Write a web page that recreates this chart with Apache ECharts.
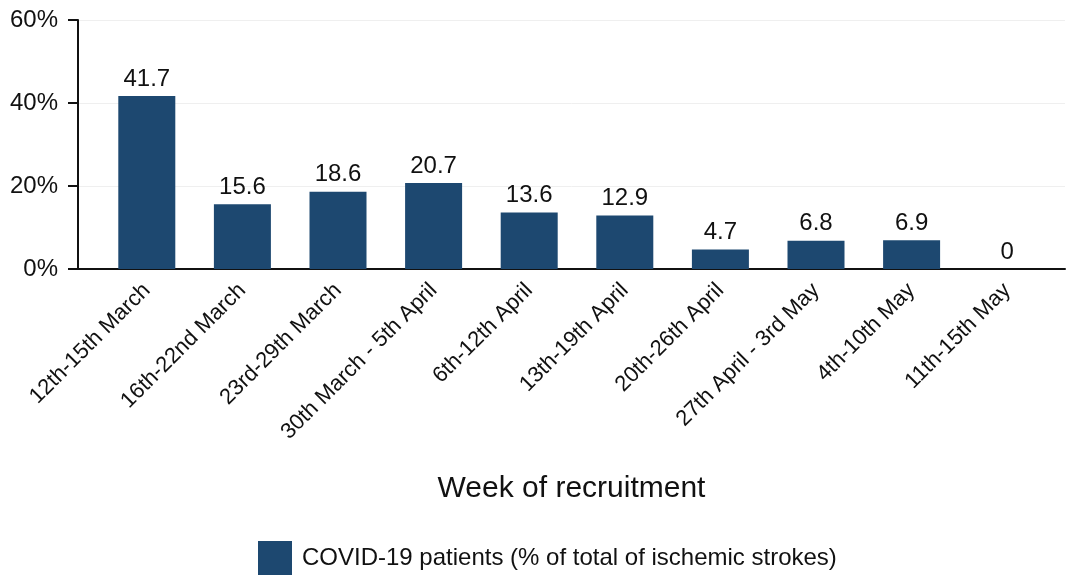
<!DOCTYPE html>
<html>
<head>
<meta charset="utf-8">
<script src="https://cdn.jsdelivr.net/npm/echarts@6/dist/echarts.min.js"></script>
<style>html,body{margin:0;padding:0;background:#fff}#c{width:1069px;height:579px}</style>
</head>
<body>
<div id="c"></div>
<script>
const categories = ["12th-15th March","16th-22nd March","23rd-29th March","30th March - 5th April","6th-12th April","13th-19th April","20th-26th April","27th April - 3rd May","4th-10th May","11th-15th May"];
const values = [41.7, 15.6, 18.6, 20.7, 13.6, 12.9, 4.7, 6.8, 6.9, 0];
const seriesName = "COVID-19 patients (% of total of ischemic strokes)";
const yTicks = [0, 20, 40, 60];

const FONT = "'Liberation Sans', Arial, sans-serif";
const chart = echarts.init(document.getElementById('c'));
chart.setOption({
  animation: false,
  textStyle: { fontFamily: FONT },
  grid: [
    { left: 99, right: 14, top: 20, bottom: 310 },
    { left: 78, right: 4, top: 20, bottom: 310 }
  ],
  legend: {
    left: 253, top: 536,
    itemWidth: 34, itemHeight: 34, itemGap: 10,
    icon: 'rect',
    textStyle: { fontSize: 24, color: '#111', fontFamily: FONT, padding: [0, 0, 0, 5] },
    data: [seriesName]
  },
  xAxis: [
    {
      gridIndex: 0, type: 'category', data: categories,
      axisLine: { show: false }, axisTick: { show: false },
      axisLabel: { rotate: 45, fontSize: 22, color: '#111', margin: 18, interval: 0, fontFamily: FONT }
    },
    {
      gridIndex: 1, type: 'value', min: 0, max: 1,
      axisLine: { show: true, lineStyle: { color: '#111', width: 2 } },
      axisTick: { show: false }, axisLabel: { show: false }, splitLine: { show: false },
      name: 'Week of recruitment', nameLocation: 'middle', nameGap: 205,
      nameTextStyle: { fontSize: 30, color: '#111', fontFamily: FONT }
    }
  ],
  yAxis: [
    {
      gridIndex: 0, type: 'value', min: 0, max: 60, interval: 20,
      show: false, splitLine: { show: false }
    },
    {
      gridIndex: 1, type: 'value', min: yTicks[0], max: yTicks[yTicks.length-1], interval: 20,
      axisLine: { show: true, lineStyle: { color: '#111', width: 2 } },
      axisTick: { show: true, length: 10, lineStyle: { color: '#111', width: 2 } },
      axisLabel: { fontSize: 24, color: '#111', margin: 20, formatter: v => v + '%', fontFamily: FONT },
      splitLine: { show: true, lineStyle: { color: '#efefef', width: 1 } }
    }
  ],
  series: [
    {
      name: seriesName, type: 'bar', xAxisIndex: 0, yAxisIndex: 0,
      data: values, barWidth: 57,
      itemStyle: { color: '#1d4870' },
      label: { show: true, position: 'top', distance: 5, fontSize: 24, color: '#111', fontFamily: FONT }
    }
  ]
});
</script>
</body>
</html>
